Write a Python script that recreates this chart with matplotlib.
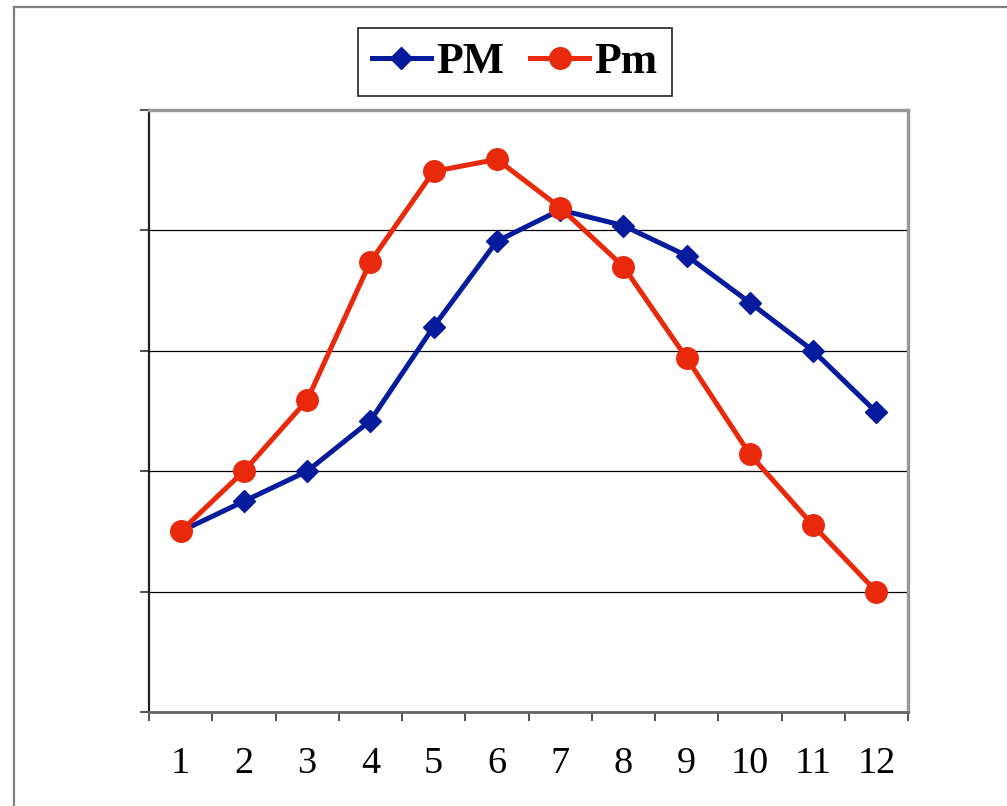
import numpy as np
import matplotlib.pyplot as plt
from matplotlib.lines import Line2D

months = np.arange(1, 13)
pm_max = [1.5, 1.75, 2.0, 2.42, 3.2, 3.91, 4.17, 4.04, 3.79, 3.40, 3.0, 2.49]
pm_min = [1.5, 2.0, 2.59, 3.74, 4.49, 4.59, 4.19, 3.70, 2.94, 2.14, 1.55, 1.0]
month_labels = [str(m) for m in months]

azul = "#061C9C"
vermelho = "#E8290B"

plt.rcParams["font.family"] = "Liberation Serif"

fig = plt.figure(figsize=(10.07, 8.06), dpi=100)
fig.patch.set_facecolor("white")
ax = fig.add_axes([149 / 1007, 1 - 712 / 806, (908 - 149) / 1007, (712 - 110) / 806])

ax.plot(months, pm_max, color=azul, lw=3.6, marker="D", ms=11,
        mec=azul, mfc=azul, label="PM", zorder=3)
ax.plot(months, pm_min, color=vermelho, lw=3.6, marker="o", ms=15.5,
        mec=vermelho, mfc=vermelho, label="Pm", zorder=4)

ax.set_xlim(0.5, 12.5)
ax.set_ylim(0, 5)

# ticks nas fronteiras das categorias, rótulos no centro
ax.set_xticks(np.arange(0.5, 13, 1))
ax.set_xticklabels([])
ax.set_xticks(months, minor=True)
ax.set_xticklabels(month_labels, minor=True)
ax.tick_params(axis="x", which="major", direction="out", length=6.5,
               width=1.2, color="#333333")
ax.tick_params(axis="x", which="minor", length=0, pad=25, labelsize=27.5,
               labelcolor="black")

ax.set_yticks(np.arange(0, 6, 1))
ax.set_yticklabels([])
ax.tick_params(axis="y", direction="out", length=6.5, width=1.2, color="#333333")

ax.grid(axis="y", which="major", color="black", lw=0.9, zorder=0)
ax.grid(axis="x", visible=False)

ax.spines["left"].set_color("#222222")
ax.spines["left"].set_linewidth(1.6)
ax.spines["bottom"].set_color("#666666")
ax.spines["bottom"].set_linewidth(2)
for side in ["top", "right"]:
    ax.spines[side].set_color("#999999")
    ax.spines[side].set_linewidth(2.4)

leg = fig.legend(loc="center", bbox_to_anchor=(514.5 / 1007, 1 - 62 / 806),
                 ncol=2, frameon=True, fancybox=False, shadow=False,
                 prop={"family": "Liberation Serif", "weight": "bold", "size": 31.5},
                 handlelength=1.35, handletextpad=0.12, columnspacing=0.6,
                 borderpad=0.32, borderaxespad=0)
leg.get_frame().set_edgecolor("black")
leg.get_frame().set_linewidth(1.3)

# moldura externa cinza
fig.add_artist(Line2D([14 / 1007, 14 / 1007], [0, 1 - 7 / 806],
                      transform=fig.transFigure, color="#808080", lw=1.6))
fig.add_artist(Line2D([14 / 1007, 1], [1 - 7 / 806, 1 - 7 / 806],
                      transform=fig.transFigure, color="#808080", lw=1.6))

fig.savefig("out.png", dpi=100)
